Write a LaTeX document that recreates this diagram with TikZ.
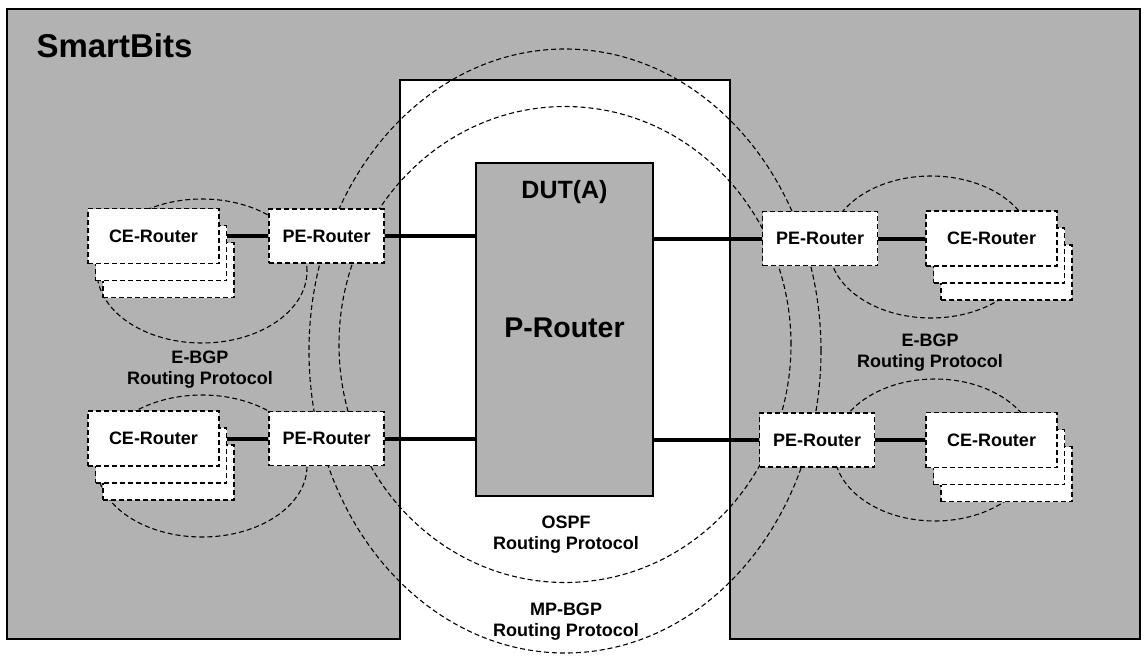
\documentclass[tikz,border=0pt]{standalone}
\usepackage{fontspec}
\setmainfont{Liberation Sans}
\usetikzlibrary{positioning}
\definecolor{sbgrey}{HTML}{B2B2B2}
\pgfdeclarelayer{frame}
\pgfdeclarelayer{wires}
\pgfsetlayers{frame,wires,main}

\tikzset{
  router/.style={draw,fill=white,dash pattern=on 5pt off 3pt,line width=1.3pt,inner sep=0pt,
    minimum width=115pt,minimum height=54pt,font=\fontsize{18}{20}\selectfont\bfseries},
  cerouter/.style={router,minimum width=131pt,minimum height=55pt},
  proto/.style={dash pattern=on 5pt off 3pt,line width=1.1pt},
  link/.style={line width=4pt},
  protolbl/.style={align=center,font=\fontsize{18}{21}\selectfont\bfseries}
}

% stacked CE-Router: name, x, y
\newcommand{\cestack}[3]{%
  \node[cerouter] (#1c) at (#2+15,#3+34) {};
  \node[cerouter] (#1b) at (#2+7.5,#3+17) {};
  \node[cerouter] (#1) at (#2,#3) {CE-Router};
}

\begin{document}
\begin{tikzpicture}[x=1pt,y=-1pt]
  \useasboundingbox (0,0) rectangle (1146,656);

  % SmartBits chassis with the DUT cut-out
  \begin{pgfonlayer}{frame}
    \filldraw[fill=sbgrey,line width=1.3pt] (7,9) -- (1140,9) -- (1140,639) -- (730,639)
      -- (730,80) -- (400,80) -- (400,639) -- (7,639) -- cycle;
  \end{pgfonlayer}

  \node[anchor=west,font=\fontsize{33}{36}\selectfont\bfseries] (sbname) at (33,46) {SmartBits};

  % DUT
  \node[draw,fill=sbgrey,line width=1.1pt,minimum width=177pt,minimum height=333pt] (dut) at (564.5,329.5) {};
  \node[font=\fontsize{25}{28}\selectfont\bfseries] (dutname) at (564.5,192) {DUT(A)};
  \node[font=\fontsize{28.5}{30}\selectfont\bfseries] (prouter) at (564.5,328) {P-Router};

  % edge routers
  \cestack{ce1}{153.5}{236}
  \cestack{ce2}{153.5}{438.5}
  \cestack{ce3}{991.5}{238.5}
  \cestack{ce4}{991.5}{440}
  \node[router] (pe1) at (326.5,236) {PE-Router};
  \node[router] (pe2) at (326.5,438.5) {PE-Router};
  \node[router] (pe3) at (820,238.5) {PE-Router};
  \node[router] (pe4) at (817,440) {PE-Router};

  % protocol labels
  \node[protolbl] (ebgpl) at (200,370) {E-BGP\\Routing Protocol};
  \node[protolbl] (ebgpr) at (930,352.5) {E-BGP\\Routing Protocol};
  \node[protolbl] (ospf) at (566,534.5) {OSPF\\Routing Protocol};
  \node[protolbl] (mpbgp) at (566,622) {MP-BGP\\Routing Protocol};

  \begin{pgfonlayer}{wires}
    % routing protocol areas
    \draw[proto] (202,271) ellipse [x radius=105pt,y radius=72pt];
    \draw[proto] (202,466) ellipse [x radius=105pt,y radius=71pt];
    \draw[proto] (931,247) ellipse [x radius=102pt,y radius=71pt];
    \draw[proto] (935,450) ellipse [x radius=101pt,y radius=71pt];
    \draw[proto] (565,344.5) ellipse [x radius=226pt,y radius=238pt];
    \draw[proto] (565,351) ellipse [x radius=256pt,y radius=302pt];
    % links
    \draw[link] (ce1.east) -- (pe1.west);
    \draw[link] (ce2.east) -- (pe2.west);
    \draw[link] (pe3.east) -- (ce3.west);
    \draw[link] (pe4.east) -- (ce4.west);
    \draw[link] (pe1.east) -- (pe1.east -| dut.west);
    \draw[link] (pe2.east) -- (pe2.east -| dut.west);
    \draw[link] (pe3.west) -- (pe3.west -| dut.east);
    \draw[link] (pe4.west) -- (pe4.west -| dut.east);
  \end{pgfonlayer}
\end{tikzpicture}
\end{document}
